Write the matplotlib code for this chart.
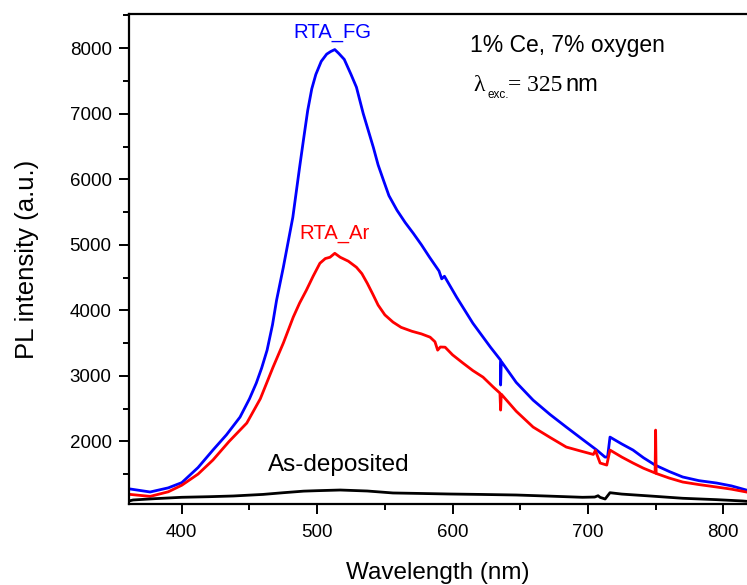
import matplotlib
matplotlib.use('Agg')
import matplotlib.pyplot as plt
from matplotlib.ticker import MultipleLocator

plt.rcParams['font.family'] = ['Liberation Sans', 'DejaVu Sans']

# RTA in forming gas (blue)
fg_wl = [361.8, 376.6, 390, 400, 412, 423, 433, 443, 450, 455, 459, 463, 467, 470, 475, 482, 487,
         490, 493, 496, 499, 503, 507, 510, 513, 516, 520, 525, 529, 534, 541.5, 545, 549, 553, 559,
         565, 571, 577, 583, 590, 592, 594, 603, 615, 628, 635.5, 635.5, 636, 647, 659.5, 672, 684,
         696, 706.5, 712.6, 714.5, 716.3, 725, 733.3, 741, 749.6, 760, 770, 782, 795, 806, 817]
fg_pl = [1273, 1227, 1290, 1370, 1600, 1867, 2100, 2370, 2650, 2888, 3120, 3392, 3780, 4154, 4657, 5419, 6181,
         6620, 7050, 7380, 7600, 7800, 7910, 7950, 7980, 7920, 7830, 7600, 7405, 7004, 6486, 6220, 5983, 5750, 5526,
         5340, 5175, 5000, 4810, 4600, 4480, 4520, 4200, 3803, 3437, 3239, 2860, 3220, 2900, 2629, 2410, 2218,
         2030, 1867, 1760, 1760, 2065, 1960, 1867, 1750, 1638, 1540, 1456, 1400, 1364, 1320, 1257]

# RTA in Ar (red)
ar_wl = [361.8, 376.6, 390, 400, 412, 423, 435, 448, 458, 467.4, 475, 482.3, 487, 492, 497, 502, 506,
         509.5, 513, 517, 523, 529, 533, 537, 541, 545, 550, 556, 562, 570, 577, 583.4, 587, 589, 591,
         594.5, 600, 607.8, 615, 622.5, 630, 635, 635.5, 636, 647, 659.5, 672, 684, 695, 704, 705.5,
         709, 713.9, 716.3, 725, 733.3, 741, 749.6, 750, 750.4, 760, 770, 782, 795, 806, 817]
ar_pl = [1190, 1160, 1230, 1330, 1500, 1715, 2000, 2279, 2650, 3132, 3500, 3895, 4110, 4306, 4520, 4718, 4790,
         4810, 4870, 4810, 4750, 4657, 4560, 4413, 4250, 4080, 3930, 3820, 3740, 3680, 3640, 3590, 3520, 3392, 3440,
         3437, 3320, 3193, 3080, 2980, 2830, 2736, 2477, 2720, 2460, 2218, 2060, 1913, 1850, 1800, 1860,
         1669, 1638, 1867, 1760, 1669, 1590, 1517, 2172, 1510, 1440, 1379, 1340, 1303, 1270, 1227]

# as-deposited (black)
dep_wl = [361, 364, 380, 400, 420, 438, 460, 475, 490, 500, 517, 537, 556, 575, 598, 620, 647,
          670, 696, 705, 707.5, 709, 712.7, 716.3, 725, 745.8, 770, 795, 814, 817]
dep_pl = [1090, 1105, 1125, 1146, 1155, 1166, 1190, 1216, 1240, 1247, 1257, 1242, 1212, 1205, 1196, 1190, 1181,
          1165, 1146, 1150, 1170, 1145, 1120, 1216, 1195, 1166, 1131, 1110, 1090, 1085]

fig = plt.figure(figsize=(7.47, 5.85), dpi=100)
ax = fig.add_axes([0.1727, 0.1385, 0.8273, 0.8376])

ax.plot(fg_wl, fg_pl, color='#0000ff', lw=2.0)
ax.plot(ar_wl, ar_pl, color='#ff0000', lw=2.0)
ax.plot(dep_wl, dep_pl, color='black', lw=2.0)

ax.set_xlim(361, 817.5)
ax.set_ylim(1044, 8523)
ax.xaxis.set_major_locator(MultipleLocator(100))
ax.xaxis.set_minor_locator(MultipleLocator(50))
ax.yaxis.set_major_locator(MultipleLocator(1000))
ax.yaxis.set_minor_locator(MultipleLocator(500))

for s in ['left', 'bottom', 'top']:
    ax.spines[s].set_linewidth(1.6)
ax.spines['right'].set_visible(False)
ax.tick_params(which='both', direction='out', width=1.4, top=False, right=False)
ax.tick_params(which='major', length=7.5, labelsize=13.5)
ax.tick_params(which='minor', length=4)
ax.tick_params(axis='x', which='major', pad=7)
ax.tick_params(axis='y', which='major', pad=5)

ax.set_xlabel('Wavelength (nm)', fontsize=17.5, labelpad=15)
ax.set_ylabel('PL intensity (a.u.)', fontsize=18.5, labelpad=22)

ax.text(482.1, 8167, 'RTA_FG', color='#0000ff', fontsize=14.6, va='baseline')
ax.text(486.6, 5099, 'RTA_Ar', color='#ff0000', fontsize=14.6, va='baseline')
ax.text(463.7, 1547, 'As-deposited', color='black', fontsize=17.5, va='baseline')
ax.text(612.8, 7950, '1% Ce, 7% oxygen', fontsize=16.5, va='baseline')

# lambda_exc. = 325 nm, mixed serif / sans as in the original
ax.text(615.1, 7355, '\u03bb', fontsize=17, family='Liberation Serif', va='baseline')
ax.text(626.1, 7248, 'exc.', fontsize=8.5, va='baseline')
ax.text(640.9, 7355, '= 325', fontsize=17, family='Liberation Serif', va='baseline')
ax.text(683.7, 7355, 'nm', fontsize=17, va='baseline')

plt.savefig('out.png', dpi=100)
